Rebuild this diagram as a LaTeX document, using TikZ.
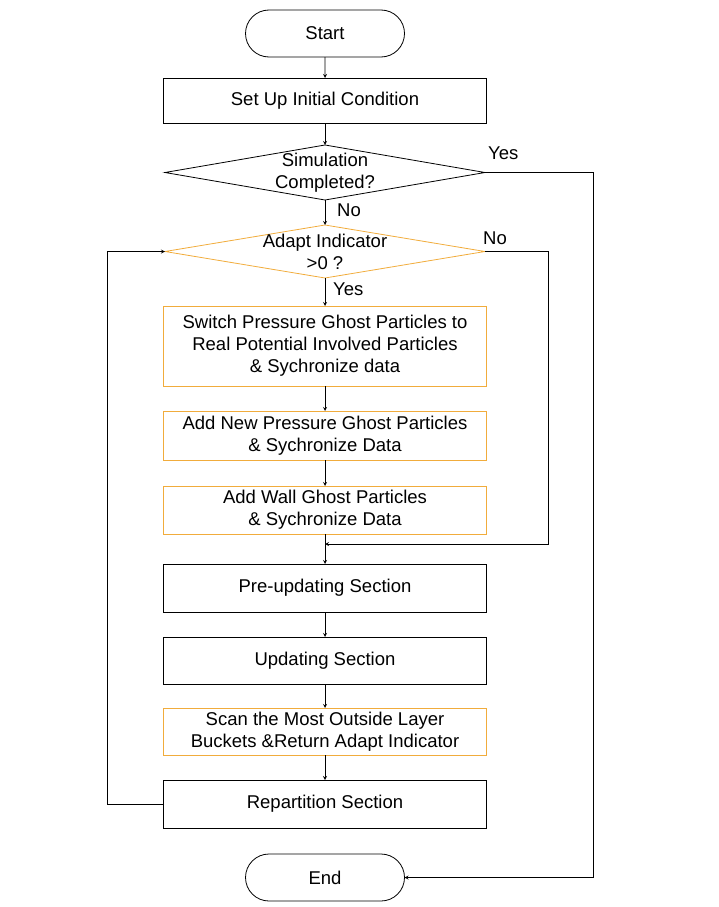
\documentclass[tikz,border=0pt]{standalone}
\usepackage{fontspec}
\setmainfont{Liberation Sans}
\usetikzlibrary{shapes,arrows,positioning}
\definecolor{adapt}{HTML}{F1AC3C}

\begin{document}
\begin{tikzpicture}[
    x=1pt, y=1pt,
    font=\fontsize{18.5}{22}\selectfont,
    term/.style={rounded rectangle, draw=black, line width=0.8pt, minimum width=159pt, minimum height=47pt, inner sep=0pt, outer sep=0pt},
    proc/.style={rectangle, draw=black, line width=0.8pt, minimum width=323pt, minimum height=48pt, inner sep=0pt, outer sep=0pt, align=center},
    newproc/.style={proc, draw=adapt},
    decide/.style={diamond, draw=black, line width=0.8pt, minimum width=320pt, minimum height=55pt, inner sep=0pt, outer sep=0pt},
    arrow/.style={->, >=stealth, line width=0.8pt},
    answer/.style={inner sep=1pt}
]
\useasboundingbox (0,0) rectangle (719,-907);

% Nodes
\node[term] (start) at (325,-33.5) {Start};
\node[proc, minimum height=45pt, below=21pt of start] (setup) {Set Up Initial Condition};
\node[decide, below=22pt of setup] (done) {};
\node[align=center] (donetxt) at (done) {Simulation\\Completed?};
\node[decide, draw=adapt, minimum height=53pt, below=25pt of done] (adapt) {};
\node[align=center] (adapttxt) at (adapt) {Adapt Indicator\\>0 ?};

% Adaptive part
\node[newproc, minimum height=80pt, below=28pt of adapt] (switch) {Switch Pressure Ghost Particles to\\Real Potential Involved Particles\\\& Sychronize data};
\node[newproc, minimum height=49pt, below=25pt of switch] (press) {Add New Pressure Ghost Particles\\\& Sychronize Data};
\node[newproc, below=26pt of press] (wall) {Add Wall Ghost Particles\\\& Sychronize Data};

% Time step
\node[proc, below=30pt of wall] (pre) {Pre-updating Section};
\node[proc, minimum height=47pt, below=25pt of pre] (update) {Updating Section};
\node[newproc, minimum height=47pt, below=24pt of update] (scan) {Scan the Most Outside Layer\\Buckets \&Return Adapt Indicator};
\node[proc, below=25pt of scan] (repart) {Repartition Section};
\node[term, below=26pt of repart] (finish) {End};

% Answers
\node[answer, above right=12pt and 2pt of done.east] (doneyes) {Yes};
\node[answer, below right=3pt and 11pt of done.south] (doneno) {No};
\node[answer, above right=6pt and -3pt of adapt.east] (adaptno) {No};
\node[answer, below right=4pt and 7pt of adapt.south] (adaptyes) {Yes};

% Turning points
\coordinate[right=108pt of done.east] (yesturn);
\coordinate[right=63pt of adapt.east] (noturn);
\coordinate[below=10pt of wall.south] (join);
\coordinate[left=56pt of repart.west] (back);

% Arrows
\draw[arrow] (start) -- (setup);
\draw[arrow] (setup) -- (done);
\draw[arrow] (done) -- (adapt);
\draw[arrow] (adapt) -- (switch);
\draw[arrow] (switch) -- (press);
\draw[arrow] (press) -- (wall);
\draw[arrow] (wall) -- (pre);
\draw[arrow] (pre) -- (update);
\draw[arrow] (update) -- (scan);
\draw[arrow] (scan) -- (repart);
\draw[arrow] (done.east) -- (yesturn) |- (finish.east);
\draw[arrow] (adapt.east) -- (noturn) |- (join);
\draw[arrow] (repart.west) -- (back) |- (adapt.west);
\end{tikzpicture}
\end{document}
